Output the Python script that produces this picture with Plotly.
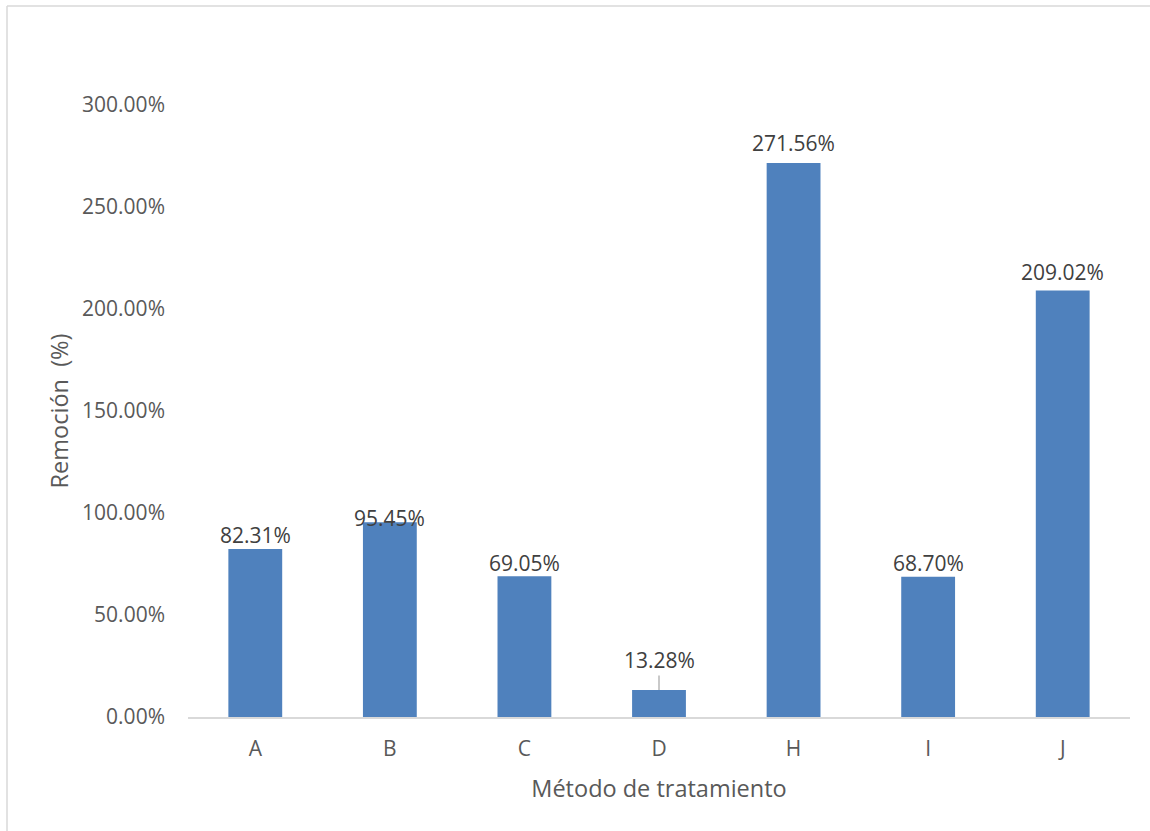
import plotly.graph_objects as go

# Removal percentage by treatment method
categories = ["A", "B", "C", "D", "H", "I", "J"]
removal_pct = [82.31, 95.45, 69.05, 13.28, 271.56, 68.70, 209.02]
y_ticks = [0, 50, 100, 150, 200, 250, 300]
y_tick_labels = [f"{v:.2f}%" for v in y_ticks]

BAR_COLOR = "#4F81BD"
TEXT_COLOR = "#595959"
LABEL_COLOR = "#404040"
FONT = "Open Sans"
TICK_SIZE = 21
TITLE_SIZE = 23.5

fig = go.Figure(
    go.Bar(
        x=categories,
        y=removal_pct,
        marker=dict(color=BAR_COLOR, line=dict(width=0)),
        width=0.4,
        hoverinfo="skip",
    )
)

# Vertical pixel offsets for the value labels (label centre above bar top)
label_lift = {"A": 14, "B": 4, "C": 13, "D": 0, "H": 20, "I": 14, "J": 19}

for cat, val in zip(categories, removal_pct):
    text = f"{val:.2f}%"
    if cat == "D":
        # small bar: label pushed up with a leader line
        fig.add_annotation(
            x=cat, y=val, text=text, showarrow=True, arrowhead=0,
            arrowwidth=1.2, arrowcolor="#A6A6A6", ax=0, ay=-30,
            standoff=0, font=dict(family=FONT, size=TICK_SIZE, color=LABEL_COLOR),
        )
    else:
        fig.add_annotation(
            x=cat, y=val, text=text, showarrow=False,
            yanchor="middle", yshift=label_lift[cat],
            font=dict(family=FONT, size=TICK_SIZE, color=LABEL_COLOR),
        )

# outer frame of the chart area (top and left edges)
fig.add_shape(type="line", xref="paper", yref="paper",
              x0=(7 - 188) / 942, x1=1.1, y0=(717 - 6) / 612, y1=(717 - 6) / 612,
              line=dict(color="#D9D9D9", width=1.5))
fig.add_shape(type="line", xref="paper", yref="paper",
              x0=(7 - 188) / 942, x1=(7 - 188) / 942, y0=(717 - 6) / 612, y1=-0.3,
              line=dict(color="#D9D9D9", width=1.5))

fig.update_layout(
    width=1150, height=831,
    margin=dict(l=188, r=20, t=105, b=114),
    paper_bgcolor="white", plot_bgcolor="white",
    showlegend=False,
    font=dict(family=FONT, size=TICK_SIZE, color=TEXT_COLOR),
    xaxis=dict(
        showline=True, linecolor="#D9D9D9", linewidth=1.5,
        showgrid=False, ticks="", ticklabelstandoff=12,
        tickfont=dict(family=FONT, size=TICK_SIZE, color=TEXT_COLOR),
        title=dict(text="Método de tratamiento", standoff=20,
                   font=dict(family=FONT, size=TITLE_SIZE, color=TEXT_COLOR)),
    ),
    yaxis=dict(
        range=[0, 300], tickvals=y_ticks, ticktext=y_tick_labels,
        showline=False, showgrid=False, zeroline=False, ticks="",
        ticklabelstandoff=22,
        tickfont=dict(family=FONT, size=TICK_SIZE, color=TEXT_COLOR),
        title=dict(text="Remoción  (%)", standoff=6,
                   font=dict(family=FONT, size=TITLE_SIZE, color=TEXT_COLOR)),
    ),
)

fig.write_html("out.html")
